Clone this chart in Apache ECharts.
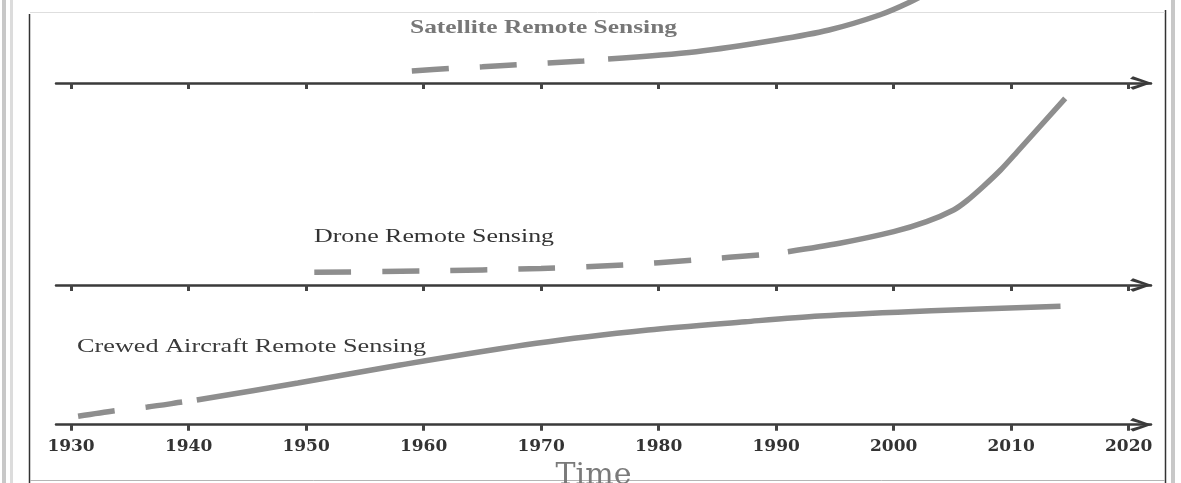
<!DOCTYPE html>
<html>
<head>
<meta charset="utf-8">
<title>Remote sensing timeline</title>
<script src="https://cdn.jsdelivr.net/npm/echarts@6.0.0/dist/echarts.min.js"></script>
<style>
  html, body { margin: 0; padding: 0; background: #fff; }
  #main { width: 1181px; height: 483px; }
</style>
</head>
<body>
<div id="main"></div>
<script>
// tick years on the time axis
const tickYears = [1930, 1940, 1950, 1960, 1970, 1980, 1990, 2000, 2010, 2020];

// [year, development level], early (dashed) part and later (solid) part
const satelliteDashed = [[1959, 12], [1962.2, 14.5], [1965, 16.2], [1968, 18.4], [1970.6, 20], [1973.6, 22], [1975.7, 24]];
const satelliteSolid = [[1975.7, 24], [1983.2, 31.3], [1990, 43], [1994.5, 53], [1998.8, 68], [2001.4, 81], [2003.5, 94]];

const droneDashed = [[1950.7, 12.7], [1960, 14], [1970, 16.5], [1977, 20], [1983, 25], [1989, 30.5], [1991, 33.3]];
const droneSolid = [[1991, 33.3], [1995.4, 41.7], [2000, 53.3], [2002.8, 63.3], [2005.1, 75], [2006.2, 84], [2007.6, 98.3], [2009.1, 115], [2010.5, 133], [2014.6, 186.7]];

const crewedDashed = [[1930.6, 8.4], [1933.7, 14], [1936.5, 17.7], [1939.5, 22.7], [1940.7, 24.7]];
const crewedSolid = [[1940.7, 24.7], [1949.3, 41.7], [1958, 59.7], [1969.6, 81.4], [1979.1, 94.7], [1987.4, 103], [1993.7, 108.7], [2003.2, 114], [2014.2, 118.5]];

const panelNames = ['Satellite Remote Sensing', 'Drone Remote Sensing', 'Crewed Aircraft Remote Sensing'];

let chartDom = document.getElementById('main');
let myChart = echarts.init(chartDom);
let option;

const lineGray = '#8e8e8e';
const axisDark = '#3a3a3a';
const serif = '"Liberation Serif", "Times New Roman", serif';

// open chevron arrow, pointing up (echarts turns it along the axis)
const chevron = 'path://M6.5,0 L13,18.2 L10.6,21 L6.5,7 L2.4,21 L0,18.2 Z';

// stretch the labels so they take the same width as in the picture
const measure = document.createElement('canvas').getContext('2d');
function stretch(text, size, weight, width) {
  measure.font = weight + ' ' + size + 'px ' + serif;
  return width / measure.measureText(text).width;
}

function timeAxis(gridIndex, showLabels) {
  return {
    type: 'value',
    gridIndex: gridIndex,
    min: 1928.72,
    max: 2021.9,
    splitLine: { show: false },
    axisLine: {
      show: true,
      lineStyle: { color: axisDark, width: 2.5 },
      symbol: ['none', chevron],
      symbolSize: [14, 22],
      symbolOffset: [0, -10]
    },
    axisTick: {
      show: true,
      inside: false,
      length: 6,
      customValues: tickYears,
      lineStyle: { color: '#444', width: 3 }
    },
    axisLabel: {
      show: showLabels,
      customValues: tickYears,
      formatter: function (v) { return String(v); },
      margin: 13,
      color: '#333',
      fontFamily: '"DejaVu Serif", serif',
      fontWeight: 'bold',
      fontSize: 17
    }
  };
}

function curve(points, gridIndex, dashed) {
  return {
    type: 'line',
    xAxisIndex: gridIndex,
    yAxisIndex: gridIndex,
    data: points,
    smooth: 0.3,
    symbol: 'none',
    silent: true,
    lineStyle: {
      color: lineGray,
      width: 5.5,
      type: dashed ? [37, 31] : 'solid',
      cap: 'butt'
    }
  };
}

let bottomAxis = timeAxis(2, true);
bottomAxis.name = 'Time';
bottomAxis.nameLocation = 'middle';
bottomAxis.nameGap = 37;
bottomAxis.nameTextStyle = { color: '#7a7a7a', fontFamily: '"DejaVu Serif", serif', fontSize: 30, padding: [0, 20, 0, 0] };

option = {
  animation: false,
  backgroundColor: '#fff',
  grid: [
    { left: 56, right: 30, top: 0, height: 83, outerBoundsMode: 'none' },
    { left: 56, right: 30, top: 83, height: 202, outerBoundsMode: 'none' },
    { left: 56, right: 30, top: 285, height: 139.7, outerBoundsMode: 'none' }
  ],
  xAxis: [timeAxis(0, false), timeAxis(1, false), bottomAxis],
  yAxis: [
    { type: 'value', gridIndex: 0, min: 0, max: 83, show: false },
    { type: 'value', gridIndex: 1, min: 0, max: 202, show: false },
    { type: 'value', gridIndex: 2, min: 0, max: 139.7, show: false }
  ],
  series: [
    curve(satelliteDashed, 0, true),
    curve(satelliteSolid, 0, false),
    curve(droneDashed, 1, true),
    curve(droneSolid, 1, false),
    curve(crewedDashed, 2, true),
    curve(crewedSolid, 2, false)
  ],
  graphic: [
    // scanned page frame
    { type: 'rect', shape: { x: 2, y: 0, width: 4, height: 483 }, style: { fill: '#c8c8c8' }, silent: true },
    { type: 'rect', shape: { x: 10, y: 0, width: 3, height: 483 }, style: { fill: '#dcdcdc' }, silent: true },
    { type: 'line', shape: { x1: 29.5, y1: 14, x2: 29.5, y2: 483 }, style: { stroke: '#333', lineWidth: 1.5 }, silent: true },
    { type: 'line', shape: { x1: 1165.5, y1: 10, x2: 1165.5, y2: 483 }, style: { stroke: '#333', lineWidth: 1.5 }, silent: true },
    { type: 'rect', shape: { x: 1171, y: 0, width: 4, height: 483 }, style: { fill: '#c8c8c8' }, silent: true },
    { type: 'line', shape: { x1: 30, y1: 12.5, x2: 1165, y2: 12.5 }, style: { stroke: '#dedede', lineWidth: 1 }, silent: true },
    { type: 'line', shape: { x1: 30, y1: 480.5, x2: 1165, y2: 480.5 }, style: { stroke: '#b5b5b5', lineWidth: 1 }, silent: true },
    // panel labels
    {
      type: 'text', x: 410, y: 28, scaleX: stretch(panelNames[0], 18, 'bold', 267),
      style: { text: panelNames[0], fontFamily: serif, fontSize: 18, fontWeight: 'bold', fill: '#777', verticalAlign: 'middle' },
      silent: true
    },
    {
      type: 'text', x: 314, y: 237, scaleX: stretch(panelNames[1], 18, 'normal', 240),
      style: { text: panelNames[1], fontFamily: serif, fontSize: 18, fill: '#333', verticalAlign: 'middle' },
      silent: true
    },
    {
      type: 'text', x: 77, y: 347, scaleX: stretch(panelNames[2], 18, 'normal', 349),
      style: { text: panelNames[2], fontFamily: serif, fontSize: 18, fill: '#3a3a3a', verticalAlign: 'middle' },
      silent: true
    }
  ]
};

option && myChart.setOption(option);
</script>
</body>
</html>
